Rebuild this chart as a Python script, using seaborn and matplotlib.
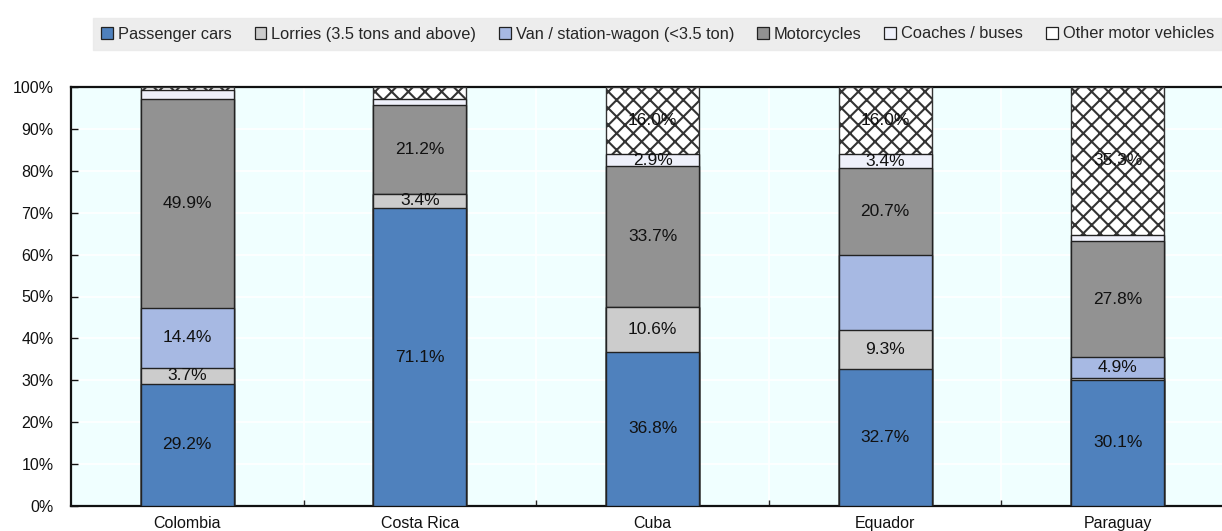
import numpy as np
import pandas as pd
import matplotlib
matplotlib.use("Agg")
import matplotlib.pyplot as plt
from matplotlib.patches import Patch
from matplotlib.ticker import FixedLocator, PercentFormatter
import seaborn as sns

# ---- data (share of registered vehicles, %) ----
countries = ["Colombia", "Costa Rica", "Cuba", "Equador", "Paraguay"]
passenger_cars = [29.2, 71.1, 36.8, 32.7, 30.1]
lorries = [3.7, 3.4, 10.6, 9.3, 0.5]
vans = [14.4, 0.0, 0.0, 17.9, 4.9]
motorcycles = [49.9, 21.2, 33.7, 20.7, 27.8]
coaches = [2.0, 1.5, 2.9, 3.4, 1.4]
other_vehicles = [0.8, 2.8, 16.0, 16.0, 35.3]

series_names = ["Passenger cars", "Lorries (3.5 tons and above)",
                "Van / station-wagon (<3.5 ton)", "Motorcycles",
                "Coaches / buses", "Other motor vehicles"]
series_values = [passenger_cars, lorries, vans, motorcycles, coaches, other_vehicles]

# which segments carry a value label (per series, per country)
show_label = [
    [True, True, True, True, True],
    [True, True, True, True, False],
    [True, False, False, False, True],
    [True, True, True, True, True],
    [False, False, True, True, False],
    [False, False, True, True, True],
]

colors = ["#4F81BD", "#CCCCCC", "#A7B9E3", "#929292", "#EEF0FA", "#FFFFFF"]
hatches = [None, None, None, None, None, "xx"]
edge_colors = ["#222222"] * 5 + ["#333333"]

sns.set_theme(style="white")
plt.rcParams["font.family"] = ["Liberation Sans", "DejaVu Sans"]
plt.rcParams["hatch.linewidth"] = 1.5

df = pd.DataFrame({"country": countries})
for name, vals in zip(series_names, series_values):
    df[name] = vals
cum = df[series_names].cumsum(axis=1)

fig = plt.figure(figsize=(12.22, 5.31), dpi=100)
fig.patch.set_facecolor("white")
ax = fig.add_axes([71 / 1222, 1 - 506 / 531, 1163 / 1222, 419 / 531])
ax.set_facecolor("#F0FFFF")

# stacked bars: draw cumulative totals from the top layer down
for i in range(len(series_names) - 1, -1, -1):
    name = series_names[i]
    sns.barplot(data=cum.assign(country=countries), x="country", y=name,
                order=countries, color=colors[i], width=0.4,
                edgecolor=edge_colors[i], linewidth=1.0, hatch=hatches[i],
                saturation=1, ax=ax, zorder=3)

# value labels in each segment
for i, name in enumerate(series_names):
    for j, c in enumerate(countries):
        v = df.loc[j, name]
        if show_label[i][j] and v > 0:
            mid = cum.loc[j, name] - v / 2
            ax.text(j, mid, f"{v:.1f}%", ha="center", va="center",
                    fontsize=12.5, color="#111111", zorder=5)

ax.set_xlim(-0.5, len(countries) - 0.5)
ax.set_ylim(0, 100)
ax.set_yticks(np.arange(0, 101, 10))
ax.yaxis.set_major_formatter(PercentFormatter(decimals=0))
ax.xaxis.set_minor_locator(FixedLocator(np.arange(0.5, len(countries) - 0.5, 1)))
ax.set_xlabel("")
ax.set_ylabel("")

ax.grid(axis="y", which="major", color="white", linewidth=1.2, zorder=0)
ax.grid(axis="x", which="minor", color="white", linewidth=1.2, zorder=0)
ax.set_axisbelow(True)

ax.tick_params(axis="y", which="major", direction="in", length=5, width=1,
               left=True, right=False, labelsize=11.5, pad=12.5, colors="#111111")
ax.tick_params(axis="x", which="major", bottom=False, labelsize=11.5, pad=1,
               colors="#111111")
ax.tick_params(axis="x", which="minor", direction="in", length=4, width=1,
               bottom=True)
for s in ax.spines.values():
    s.set_color("#111111")
    s.set_linewidth(1.6)

handles = [Patch(facecolor=c, edgecolor="#222222", linewidth=0.9)
           for c in colors]
leg = fig.legend(handles, series_names, loc="center",
                 bbox_to_anchor=(93 / 1222, 1 - 53 / 531, 1 - 93 / 1222, 38 / 531),
                 mode="expand", ncol=6, fontsize=11.75, frameon=True,
                 fancybox=False, handlelength=0.72, handleheight=0.72,
                 handletextpad=0.3, columnspacing=1.0, borderpad=0.5,
                 borderaxespad=0)
leg.get_frame().set_facecolor("#E9E9E9")
leg.get_frame().set_edgecolor("#E9E9E9")

fig.savefig("out.png", dpi=100, facecolor="white")
